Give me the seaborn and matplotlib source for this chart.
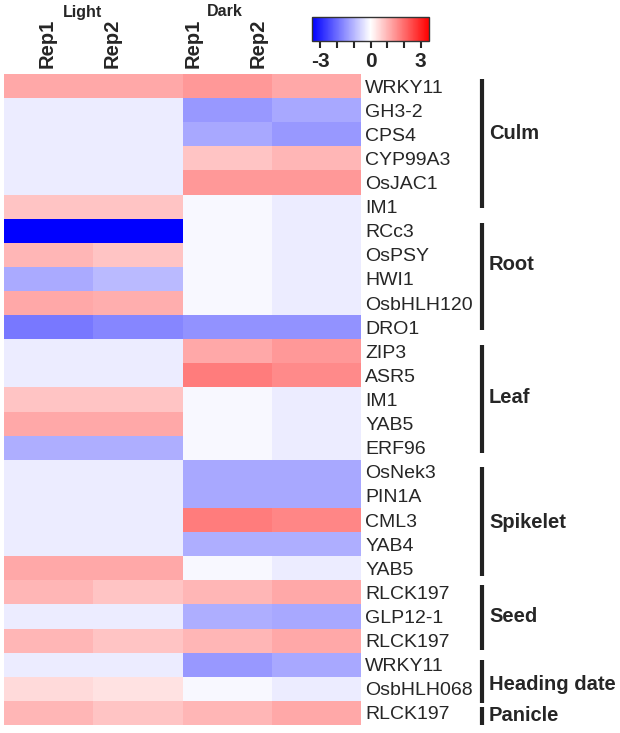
import numpy as np
import pandas as pd
import matplotlib
matplotlib.use('Agg')
import matplotlib.pyplot as plt
import seaborn as sns

genes = ['WRKY11', 'GH3-2', 'CPS4', 'CYP99A3', 'OsJAC1', 'IM1',
         'RCc3', 'OsPSY', 'HWI1', 'OsbHLH120', 'DRO1',
         'ZIP3', 'ASR5', 'IM1', 'YAB5', 'ERF96',
         'OsNek3', 'PIN1A', 'CML3', 'YAB4', 'YAB5',
         'RLCK197', 'GLP12-1', 'RLCK197',
         'WRKY11', 'OsbHLH068',
         'RLCK197']

light_rep1 = [1.2, -0.25, -0.25, -0.25, -0.25, 0.8,
              -3.5, 1.0, -1.15, 1.2, -1.85,
              -0.25, -0.25, 0.8, 1.2, -1.1,
              -0.25, -0.25, -0.25, -0.25, 1.2,
              1.0, -0.25, 1.0,
              -0.25, 0.5,
              1.0]
light_rep2 = [1.2, -0.25, -0.25, -0.25, -0.25, 0.8,
              -3.5, 0.8, -0.95, 1.1, -1.65,
              -0.25, -0.25, 0.8, 1.2, -1.1,
              -0.25, -0.25, -0.25, -0.25, 1.2,
              0.8, -0.25, 0.8,
              -0.25, 0.4,
              0.8]
dark_rep1 = [1.4, -1.4, -1.2, 0.8, 1.4, -0.1,
             -0.1, -0.1, -0.1, -0.1, -1.5,
             1.2, 1.8, -0.1, -0.1, -0.1,
             -1.2, -1.2, 1.8, -1.1, -0.1,
             1.0, -1.1, 1.0,
             -1.4, -0.1,
             1.0]
dark_rep2 = [1.2, -1.2, -1.4, 1.0, 1.4, -0.25,
             -0.25, -0.25, -0.25, -0.25, -1.5,
             1.4, 1.6, -0.25, -0.25, -0.25,
             -1.2, -1.2, 1.65, -1.1, -0.25,
             1.2, -1.2, 1.2,
             -1.2, -0.25,
             1.2]

conditions = ['Light', 'Dark']
rep_labels = ['Rep1', 'Rep2', 'Rep1', 'Rep2']
tissues = ['Culm', 'Root', 'Leaf', 'Spikelet', 'Seed', 'Heading date', 'Panicle']
tissue_sizes = [6, 5, 5, 5, 3, 2, 1]

df = pd.DataFrame({'L1': light_rep1, 'L2': light_rep2,
                   'D1': dark_rep1, 'D2': dark_rep2}, index=genes)

sns.set_style('white')
plt.rcParams['font.family'] = ['Liberation Sans', 'DejaVu Sans']

fig = plt.figure(figsize=(6.2, 7.33), dpi=100)
ax = fig.add_axes([4 / 620, 1 - 725 / 733, 357 / 620, 651 / 733])
cax = fig.add_axes([312 / 620, 1 - 41 / 733, 117 / 620, 24 / 733])

sns.heatmap(df, ax=ax, cmap='bwr', vmin=-3.5, vmax=3.5, cbar_ax=cax,
            cbar_kws={'orientation': 'horizontal'},
            xticklabels=False, yticklabels=genes)

# gene names on the right
ax.yaxis.tick_right()
ax.set_yticklabels(genes, rotation=0, fontsize=14)
ax.tick_params(axis='y', length=0, pad=3)
ax.set_ylabel('')

# column headers (positions as in the original figure)
fx = [47, 112, 193, 258]
for x, lab in zip(fx, rep_labels):
    fig.text(x / 620, 1 - 68 / 733, lab, rotation=90, ha='center', va='bottom',
             fontsize=14.5, fontweight='bold')
fig.text(83 / 620, 1 - 12 / 733, conditions[0], ha='center', va='center',
         fontsize=11.5, fontweight='bold')
fig.text(225 / 620, 1 - 12 / 733, conditions[1], ha='center', va='center',
         fontsize=11.5, fontweight='bold')

# tissue brackets (hand-drawn spacing in the original, so per-group insets)
top_in = [0.2, 0.2, 0.25, 0.3, 0.2, 0.3, 0.25]
bot_in = [0.45, 0.37, 0.3, 0.2, 0.1, -0.1, 0.0]
lab_dy = [-0.55, -0.6, -0.1, 0.1, 0.0, 0.3, 0.1]
tr = ax.get_yaxis_transform()
bx = (482 - 4) / 357
start = 0
for name, n, t_in, b_in, dy in zip(tissues, tissue_sizes, top_in, bot_in, lab_dy):
    ax.plot([bx, bx], [start + t_in, start + n - b_in], color='#222222', lw=3,
            transform=tr, clip_on=False, solid_capstyle='butt')
    ax.text(bx + 7 / 357, start + n / 2 + dy, name, transform=tr, ha='left',
            va='center', fontsize=14.5, fontweight='bold')
    start += n

# colorbar
cbar = ax.collections[0].colorbar
cbar.set_ticks(np.arange(-3, 4, 1))
cbar.set_ticklabels(['-3', '', '', '0', '', '', '3'])
cax.tick_params(axis='x', length=5, width=1.5, labelsize=15, pad=3)
for t in cax.get_xticklabels():
    t.set_fontweight('bold')
cbar.outline.set_visible(True)
cbar.outline.set_linewidth(1)
cbar.outline.set_edgecolor('#333333')

fig.savefig('out.png', dpi=100)
